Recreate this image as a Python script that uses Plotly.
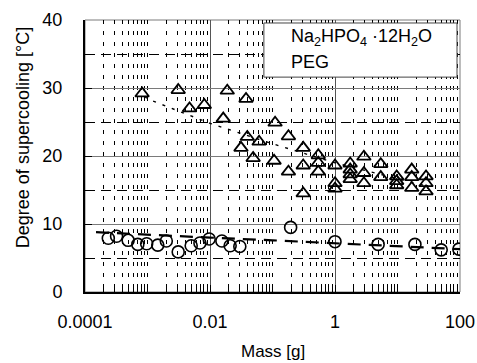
import plotly.graph_objects as go

# ---- data ----
tri_mass = [0.00082, 0.0031, 0.0047, 0.0081, 0.0163, 0.0189, 0.0377, 0.0313, 0.0395, 0.061,
            0.049, 0.11, 0.106, 0.18, 0.18, 0.31, 0.31, 0.31, 0.54, 0.54, 0.54,
            1.0, 1.0, 1.0, 1.75, 1.75, 1.75, 1.75, 2.9, 2.9, 2.9, 5.4, 5.4,
            9.7, 9.7, 9.7, 16.9, 16.9, 16.9, 28.6, 28.6, 28.6]
tri_sc = [29.2, 29.7, 27.0, 27.5, 25.5, 29.6, 28.4, 21.2, 22.8, 22.1,
          19.7, 24.9, 19.3, 22.9, 17.7, 21.2, 18.6, 14.5, 20.1, 19.0, 17.7,
          18.6, 16.0, 15.2, 18.9, 18.0, 17.3, 16.6, 19.9, 17.5, 16.0, 18.8, 16.9,
          17.0, 16.3, 15.7, 18.0, 16.9, 15.3, 17.0, 16.0, 14.8]

cir_mass = [0.000236, 0.00032, 0.00049, 0.0007, 0.00097, 0.00146, 0.002, 0.0031, 0.005, 0.0069,
            0.0097, 0.0155, 0.021, 0.030, 0.195, 1.0, 4.9, 19.0, 50.0, 96.0]
cir_sc = [7.9, 8.2, 7.6, 7.0, 7.1, 6.9, 7.5, 5.9, 6.8, 7.2,
          7.8, 7.5, 6.8, 6.7, 9.5, 7.4, 7.0, 7.0, 6.2, 6.3]

tri_fit_mass = [0.0009, 0.001, 0.01, 0.1, 1, 10, 28.6]
tri_fit_sc = [28.8, 28.4, 24.8, 21.8, 19.0, 16.6, 15.6]

cir_fit_mass = [0.00015, 0.001, 0.01, 0.1, 1, 10, 100]
cir_fit_sc = [8.8, 8.4, 8.0, 7.6, 7.2, 6.7, 6.3]

x_tickvals = [0.0001, 0.01, 1, 100]
x_ticktext = ["0.0001", "0.01", "1", "100"]
y_tickvals = [0, 10, 20, 30, 40]

legend_line1 = "Na<sub>2</sub>HPO<sub>4</sub> ·12H<sub>2</sub>O"
legend_line2 = "PEG"
x_title = "Mass [g]"
y_title = "Degree of supercooling [°C]"

FONT = "Liberation Sans, Arial, sans-serif"

# minor positions: 1..9 x 10^k except major ticks
minor_x = []
for k in range(-4, 2):
    for d in range(1, 10):
        v = d * 10.0 ** k
        if not any(abs(v - t) / t < 1e-9 for t in x_tickvals):
            minor_x.append(v)

fig = go.Figure()

fig.add_trace(go.Scatter(x=tri_fit_mass, y=tri_fit_sc, mode="lines",
                         line=dict(color="black", width=1.4, dash="3px,7px"),
                         showlegend=False, hoverinfo="skip"))
fig.add_trace(go.Scatter(x=cir_fit_mass, y=cir_fit_sc, mode="lines",
                         line=dict(color="black", width=2.2, dash="13px,8px"),
                         showlegend=False, hoverinfo="skip"))
fig.add_trace(go.Scatter(x=tri_mass, y=tri_sc, mode="markers",
                         marker=dict(symbol="triangle-up-open", size=12, color="black",
                                     line=dict(width=1.8, color="black")),
                         showlegend=False))
fig.add_trace(go.Scatter(x=cir_mass, y=cir_sc, mode="markers",
                         marker=dict(symbol="circle-open", size=12, color="black",
                                     line=dict(width=1.6, color="black")),
                         showlegend=False))

fig.update_layout(
    width=477, height=363,
    margin=dict(l=85, r=17, t=20, b=71, autoexpand=False),
    paper_bgcolor="white", plot_bgcolor="white",
    font=dict(family=FONT, size=18, color="black"),
    showlegend=False,
)

fig.update_xaxes(
    type="log", range=[-4, 2], automargin=False,
    tickvals=x_tickvals, ticktext=x_ticktext,
    ticks="inside", ticklen=7, tickcolor="black", tickwidth=1,
    showline=True, linecolor="black", linewidth=2, mirror=False,
    showgrid=True, gridcolor="#555555", gridwidth=1,
    zeroline=False,
    ticklabelstandoff=12,
    tickfont=dict(size=18),
    minor=dict(tickvals=minor_x, ticks="inside", ticklen=5, tickcolor="black",
               showgrid=True, gridcolor="black", gridwidth=1, griddash="4px,7px"),
)
fig.update_yaxes(
    range=[0, 40], automargin=False,
    tickvals=y_tickvals,
    ticks="inside", ticklen=7, tickcolor="black", tickwidth=1,
    showline=True, linecolor="black", linewidth=2, mirror=False,
    showgrid=True, gridcolor="#7a7a7a", gridwidth=1,
    zeroline=False,
    ticklabelstandoff=17,
    tickfont=dict(size=18),
    minor=dict(dtick=5, ticks="inside", ticklen=7, tickcolor="black",
               showgrid=True, gridcolor="black", gridwidth=1, griddash="10px,6px"),
)

# outer frame (grey top / right)
fig.add_shape(type="rect", xref="paper", yref="paper", x0=0, y0=0, x1=1, y1=1,
              line=dict(color="#7a7a7a", width=1), layer="below")

# legend box
fig.add_shape(type="rect", xref="paper", yref="paper", x0=0.477, x1=0.992, y0=0.790, y1=0.989,
              line=dict(color="#444444", width=1), fillcolor="white", layer="above")
fig.add_annotation(xref="paper", yref="paper", x=0.544, y=0.937, text=legend_line1,
                   showarrow=False, xanchor="left", yanchor="middle", font=dict(size=18))
fig.add_annotation(xref="paper", yref="paper", x=0.544, y=0.846, text=legend_line2,
                   showarrow=False, xanchor="left", yanchor="middle", font=dict(size=18))

# axis titles
fig.add_annotation(xref="paper", yref="paper", x=0.5, y=-0.217, text=x_title,
                   showarrow=False, xanchor="center", yanchor="middle", font=dict(size=17))
fig.add_annotation(xref="paper", yref="paper", x=-0.165, y=0.566, text=y_title,
                   textangle=-90, showarrow=False, xanchor="center", yanchor="middle",
                   font=dict(size=18))

fig.write_html("out.html",
               config={"displayModeBar": False},
               post_script="document.body.style.margin='0';document.body.style.overflow='hidden';")
